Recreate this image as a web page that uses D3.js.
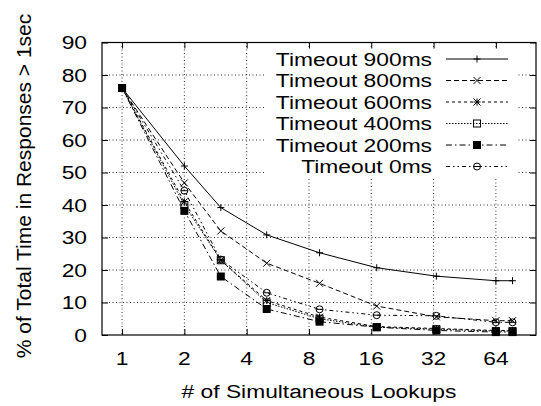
<!DOCTYPE html>
<html><head><meta charset="utf-8">
<script src="https://cdn.jsdelivr.net/npm/d3@7"></script>
<style>body{margin:0;background:#fff}svg{display:block}text{font-family:"Liberation Sans",Arial,sans-serif;fill:#000}</style>
</head><body>
<svg id="c" width="541" height="406"></svg>
<script>
const xValues = [1, 2, 3, 5, 9, 17, 33, 64, 77];
const seriesNames = ["Timeout 900ms", "Timeout 800ms", "Timeout 600ms", "Timeout 400ms", "Timeout 200ms", "Timeout 0ms"];
const t900 = [76, 52, 39.2, 30.8, 25.3, 20.7, 18.1, 16.7, 16.7];
const t800 = [76, 46.8, 32, 22.1, 15.9, 8.9, 5.6, 4.4, 4.4];
const t600 = [76, 41, 23, 10.6, 5.5, 2.6, 2.0, 1.4, 1.4];
const t400 = [76, 40, 23, 10, 5, 2.4, 1.8, 1.2, 1.2];
const t200 = [76, 38.2, 18, 8, 4.1, 2.4, 1.4, 0.9, 0.9];
const t0   = [76, 44.4, 23.2, 13, 7.9, 6.1, 5.9, 3.9, 3.9];
const xTicks = [1, 2, 4, 8, 16, 32, 64];
const yTicks = [0, 10, 20, 30, 40, 50, 60, 70, 80, 90];

const svg = d3.select("#c");
const L = 102, R = 536, T = 42.5, B = 335;
const x = d3.scaleLog().base(2).domain([0.8, 100]).range([L, R]);
const y = d3.scaleLinear().domain([0, 90]).range([B, T]);

const all = [t900, t800, t600, t400, t200, t0];
const dashes = [null, "5,3", "3,3", "1.5,1.5", "6,3,1.5,3", "4,3,1.5,3,1.5,3"];
const markers = ["plus", "cross", "star", "box", "fbox", "circle"];
const FS = 19, SX = 1.2;

function txt(sel, px, py, str, anchor, dy) {
  return sel.append("text").attr("transform", `translate(${px},${py}) scale(${SX},1)`)
    .attr("text-anchor", anchor).attr("dy", dy || 0).attr("font-size", FS).text(str);
}

// grid
const g = svg.append("g");
g.selectAll("line.gx").data(xTicks).join("line")
  .attr("x1", d => x(d)).attr("x2", d => x(d)).attr("y1", T).attr("y2", B)
  .attr("stroke", "#000").attr("stroke-width", 0.8).attr("stroke-dasharray", "1,2.5");
g.selectAll("line.gy").data(yTicks.slice(1, -1)).join("line")
  .attr("x1", L).attr("x2", R).attr("y1", d => y(d)).attr("y2", d => y(d))
  .attr("stroke", "#000").attr("stroke-width", 0.8).attr("stroke-dasharray", "1,2.5");

// legend background
svg.append("rect").attr("x", 266).attr("y", 47).attr("width", 250).attr("height", 131).attr("fill", "#fff");

// axes with inward ticks (labels drawn separately for stretched text)
const axB = d3.axisBottom(x).tickValues(xTicks).tickFormat("").tickSizeInner(-6).tickSizeOuter(0);
const axL = d3.axisLeft(y).tickValues(yTicks).tickFormat("").tickSizeInner(-6).tickSizeOuter(0);
const axT = d3.axisTop(x).tickValues(xTicks).tickFormat("").tickSizeInner(-6).tickSizeOuter(0);
const axR = d3.axisRight(y).tickValues(yTicks).tickFormat("").tickSizeInner(-6).tickSizeOuter(0);
function style(sel){ sel.selectAll("path").remove(); sel.selectAll("line").attr("stroke","#000"); }
svg.append("g").attr("transform", `translate(0,${B})`).call(axB).call(style);
svg.append("g").attr("transform", `translate(${L},0)`).call(axL).call(style);
svg.append("g").attr("transform", `translate(0,${T})`).call(axT).call(style);
svg.append("g").attr("transform", `translate(${R},0)`).call(axR).call(style);
svg.append("rect").attr("x", L).attr("y", T).attr("width", R - L).attr("height", B - T)
  .attr("fill", "none").attr("stroke", "#000").attr("stroke-width", 1.2);

const tl = svg.append("g");
xTicks.forEach(t => txt(tl, x(t), 365, d3.format("d")(t), "middle"));
yTicks.forEach(t => txt(tl, 87, y(t), String(t), "end", "0.36em"));

function marker(sel, type, cx, cy) {
  const s = 3.5;
  if (type === "plus") {
    sel.append("path").attr("d", `M${cx-s},${cy}H${cx+s}M${cx},${cy-s}V${cy+s}`).attr("stroke", "#000").attr("fill", "none");
  } else if (type === "cross") {
    sel.append("path").attr("d", `M${cx-s},${cy-s}L${cx+s},${cy+s}M${cx-s},${cy+s}L${cx+s},${cy-s}`).attr("stroke", "#000").attr("fill", "none");
  } else if (type === "star") {
    sel.append("path").attr("d", `M${cx-s},${cy}H${cx+s}M${cx},${cy-s}V${cy+s}M${cx-s},${cy-s}L${cx+s},${cy+s}M${cx-s},${cy+s}L${cx+s},${cy-s}`).attr("stroke", "#000").attr("fill", "none");
  } else if (type === "box") {
    sel.append("rect").attr("x", cx-s).attr("y", cy-s).attr("width", 2*s).attr("height", 2*s).attr("stroke", "#000").attr("fill", "none");
  } else if (type === "fbox") {
    sel.append("rect").attr("x", cx-s-0.5).attr("y", cy-s-0.5).attr("width", 2*s+1).attr("height", 2*s+1).attr("fill", "#000");
  } else {
    sel.append("circle").attr("cx", cx).attr("cy", cy).attr("r", s).attr("stroke", "#000").attr("fill", "none");
    sel.append("line").attr("x1", cx-s).attr("x2", cx+s).attr("y1", cy).attr("y2", cy).attr("stroke", "#000");
  }
}

const line = d3.line().x((d, i) => x(xValues[i])).y(d => y(d));
const plot = svg.append("g");
all.forEach((vals, k) => {
  plot.append("path").datum(vals).attr("d", line).attr("fill", "none").attr("stroke", "#000")
    .attr("stroke-width", 1).attr("stroke-dasharray", dashes[k]);
  vals.forEach((v, i) => marker(plot, markers[k], x(xValues[i]), y(v)));
});

// legend
const rowY = [59, 80.5, 102, 123.5, 145, 166.5];
const leg = svg.append("g");
seriesNames.forEach((n, k) => {
  txt(leg, 432, rowY[k], n, "end", "0.36em");
  leg.append("line").attr("x1", 446).attr("x2", 508).attr("y1", rowY[k]).attr("y2", rowY[k])
    .attr("stroke", "#000").attr("stroke-dasharray", dashes[k]);
  marker(leg, markers[k], 477, rowY[k]);
});

// axis titles
txt(svg, 319, 398, "# of Simultaneous Lookups", "middle");
svg.append("text").attr("transform", `translate(31,186) rotate(-90)`).attr("text-anchor", "middle").attr("font-size", 21).text("% of Total Time in Responses > 1sec");
</script>
</body></html>
